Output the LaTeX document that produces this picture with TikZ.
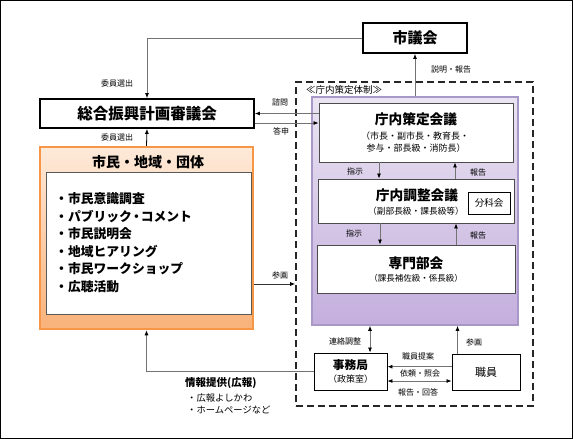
\documentclass[tikz,border=0pt]{standalone}
\usepackage{fontspec}
\setmainfont{Noto Sans CJK JP}
\usetikzlibrary{calc,arrows.meta}
\newcommand\myfs[1]{\fontsize{#1}{#1}\selectfont}
\definecolor{orgline}{HTML}{F79646}
\definecolor{orgtop}{HTML}{FDEADA}
\definecolor{orgbot}{HTML}{F9B27A}
\definecolor{purtop}{HTML}{EAE4F2}
\definecolor{purbot}{HTML}{C4AFDD}
\definecolor{purline}{HTML}{A898C8}
\begin{document}
\begin{tikzpicture}[x=1pt,y=-1pt,
  thickbox/.style={draw=black,line width=1.8pt,fill=white,inner sep=0pt},
  gbox/.style={draw=black!70,line width=0.9pt,fill=white,inner sep=0pt},
  bbox/.style={draw=black,line width=0.9pt,fill=white,inner sep=0pt},
  conn/.style={draw=black!55,line width=0.8pt},
  tip/.style={-{Latex[length=5pt,width=4pt,color=black]}},
  dtip/.style={{Latex[length=5pt,width=4pt,color=black]}-{Latex[length=5pt,width=4pt,color=black]}},
  lbl/.style={font=\myfs{8},inner sep=0pt},
  txt/.style={inner sep=0pt}]
\useasboundingbox (0,0) rectangle (573,439);
\draw[black,line width=1pt] (0.5,0.5) rectangle (572.5,438.5);

% containers
\node[draw=black!85,line width=1.6pt,dash pattern=on 7pt off 4pt,minimum width=237pt,minimum height=324pt,inner sep=0pt] (dashed) at (414.5,244) {};
\node[top color=purtop,bottom color=purbot,draw=purline,line width=1.5pt,minimum width=206pt,minimum height=228pt,inner sep=0pt] (purple) at (415,211) {};
\node[txt,font=\myfs{9.5}] (taisei) at (344,90) {≪庁内策定体制≫};

% top boxes
\node[thickbox,minimum width=104pt,minimum height=30pt,font=\bfseries\myfs{15}] (shijikai) at (415,38) {市議会};
\node[thickbox,minimum width=214pt,minimum height=29pt,font=\bfseries\myfs{15.5}] (shingikai) at (147,113.5) {総合振興計画審議会};

% inner boxes
\node[gbox,minimum width=194pt,minimum height=59pt] (teiki) at (416,132.5) {};
\node[txt,font=\bfseries\myfs{13.7}] (teikiT) at (416,119) {庁内策定会議};
\node[txt,font=\myfs{9}] (teikiS1) at (415,136) {（市長・副市長・教育長・};
\node[txt,font=\myfs{9}] (teikiS2) at (416,148) {参与・部長級・消防長）};

\node[gbox,minimum width=196pt,minimum height=44pt] (chosei) at (416,201) {};
\node[txt,font=\bfseries\myfs{13.7}] (choseiT) at (417,195.5) {庁内調整会議};
\node[txt,font=\myfs{8.7}] (choseiS) at (416,211) {（副部長級・課長級等）};
\node[bbox,minimum width=42pt,minimum height=22pt,font=\myfs{9.5}] (bunka) at (489,203) {分科会};

\node[gbox,minimum width=198pt,minimum height=48pt] (senmon) at (416,269) {};
\node[txt,font=\bfseries\myfs{13.7}] (senmonT) at (416,263) {専門部会};
\node[txt,font=\myfs{8.5}] (senmonS) at (416,278.5) {（課長補佐級・係長級）};

% citizens box
\node[top color=orgtop,bottom color=orgbot,draw=orgline,line width=2.5pt,minimum width=213pt,minimum height=182pt,inner sep=0pt] (orange) at (146.5,238) {};
\node[txt,font=\bfseries\myfs{14}] (orangeT) at (148,162.5) {市民・地域・団体};
\node[draw=black!65,line width=0.9pt,fill=white,minimum width=205pt,minimum height=142pt,inner sep=0pt] (inner) at (148.5,243) {};
\foreach \t/\yy [count=\i] in {市民意識調査/199,パブリック{\kern-2pt}・{\kern-2pt}コメント/216.5,市民説明会/234,地域ヒアリング/251.5,市民ワークショップ/269,広聴活動/286.5}
  \node[txt,anchor=west,font=\bfseries\myfs{12.8}] (item\i) at (55,\yy) {・\t};

% bottom boxes
\node[bbox,minimum width=73pt,minimum height=37pt] (jimu) at (350.5,371.5) {};
\node[txt,font=\bfseries\myfs{11.7}] (jimuT) at (350.5,365) {事務局};
\node[txt,font=\myfs{9}] (jimuS) at (350.5,379) {（政策室）};
\node[bbox,minimum width=68pt,minimum height=36pt,font=\myfs{11}] (shokuin) at (486,372) {職員};

% connectors
\draw[conn,tip] (shijikai.west) -| (shingikai.north);
\node[lbl] (l1) at (117,83) {委員選出};
\draw[conn,draw=black,tip] (orange.north) -- (shingikai.south);
\node[lbl] (l2) at (117,137) {委員選出};

\draw[conn,tip] (teiki.west |- shingikai.east) -- (shingikai.east);
\node[lbl] (l3) at (280,102) {諮問};
\coordinate (tosinA) at ($(shingikai.east)+(0,9.5)$);
\draw[conn,tip] (tosinA) -- (tosinA -| teiki.west);
\node[lbl] (l4) at (281,131) {答申};

\draw[conn,tip] (purple.north) -- (shijikai.south);
\node[lbl] (l5) at (451,69) {説明・報告};

\draw[conn,tip] ($(teiki.south)+(-37,0)$) -- ($(chosei.north)+(-37,0)$);
\draw[conn,tip] ($(chosei.north)+(39,0)$) -- ($(teiki.south)+(39,0)$);
\node[lbl] (l6) at (355,171) {指示};
\node[lbl] (l7) at (478,172) {報告};

\draw[conn,tip] ($(chosei.south)+(-36,0)$) -- ($(senmon.north)+(-36,0)$);
\draw[conn,tip] ($(senmon.north)+(40,0)$) -- ($(chosei.south)+(40,0)$);
\node[lbl] (l8) at (354,233) {指示};
\node[lbl] (l9) at (478,235) {報告};

\coordinate (sankaA) at ($(orange.east)+(0,46)$);
\draw[conn,draw=black!80,tip] (sankaA) -- (sankaA -| dashed.west);
\node[lbl] (l10) at (280,275) {参画};

\draw[conn,tip] (jimu.west) -| (orange.south);

\draw[conn,dtip] ($(purple.south)+(-45,0)$) -- ($(jimu.north)+(19.5,0)$);
\node[lbl] (l11) at (345,341) {連絡調整};
\coordinate (sankaB) at ($(shokuin.north)+(-28.5,0)$);
\draw[conn,tip] (sankaB) -- (sankaB |- purple.south);
\node[lbl] (l12) at (474,342) {参画};

\coordinate (teianA) at ($(shokuin.west)+(0,-5.3)$);
\draw[conn,tip] (teianA) -- (teianA -| jimu.east);
\node[lbl] (l13) at (418,356) {職員提案};
\node[lbl] (l14) at (420,373) {依頼・照会};
\coordinate (kaitoA) at ($(jimu.east)+(0,9.5)$);
\draw[conn,dtip] (kaitoA) -- (kaitoA -| shokuin.west);
\node[lbl] (l15) at (418,392) {報告・回答};

\node[txt,anchor=west,font=\bfseries\myfs{10.5}] (joho) at (185,383.5) {情報提供(広報)};
\node[txt,anchor=west,font=\myfs{9.3}] (joho1) at (187,398) {・広報よしかわ};
\node[txt,anchor=west,font=\myfs{9.3}] (joho2) at (187,410) {・ホームページなど};
\end{tikzpicture}
\end{document}
